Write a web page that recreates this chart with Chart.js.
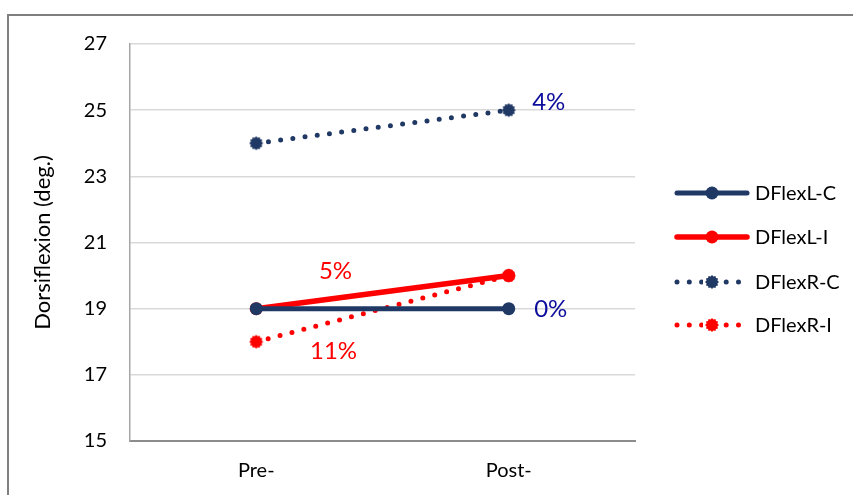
<!DOCTYPE html>
<html>
<head>
<meta charset="utf-8">
<script src="https://cdn.jsdelivr.net/npm/chart.js@4.4.1/dist/chart.umd.min.js"></script>
<style>
  html, body { margin: 0; padding: 0; background: #ffffff; }
  #wrap { width: 853px; height: 495px; position: relative; }
</style>
</head>
<body>
<div id="wrap"><canvas id="c" width="853" height="495"></canvas></div>
<script>
// Dorsiflexion before and after, per side and group
const phases = ['Pre-', 'Post-'];
const dflexLC = [19, 19];
const dflexLI = [19, 20];
const dflexRC = [24, 25];
const dflexRI = [18, 20];
const seriesNames = ['DFlexL-C', 'DFlexL-I', 'DFlexR-C', 'DFlexR-I'];
const yTicks = [15, 17, 19, 21, 23, 25, 27];

const NAVY = '#203864';
const RED = '#ff0000';
const FONT = 'Lato, "Open Sans", sans-serif';

// Percentage change from Pre- to Post-
function pctChange(arr) {
  return Math.round((arr[1] - arr[0]) / arr[0] * 100) + '%';
}

// Round marker with a ragged edge, used for the dotted series
function raggedDot(color) {
  const size = 16;
  const cv = document.createElement('canvas');
  cv.width = size; cv.height = size;
  const g = cv.getContext('2d');
  g.fillStyle = color;
  g.beginPath();
  const n = 24;
  for (let i = 0; i <= n; i++) {
    const a = i / n * Math.PI * 2;
    const r = i % 2 === 0 ? 7 : 5.6;
    const x = size / 2 + r * Math.cos(a);
    const y = size / 2 + r * Math.sin(a);
    if (i === 0) g.moveTo(x, y); else g.lineTo(x, y);
  }
  g.closePath();
  g.fill();
  return cv;
}

const dotNavy = raggedDot(NAVY);
const dotRed = raggedDot(RED);

const datasets = [
  { label: seriesNames[0], data: dflexLC, borderColor: NAVY, backgroundColor: NAVY,
    borderWidth: 5, pointRadius: 6.5, pointStyle: 'circle', pointBorderWidth: 0 },
  { label: seriesNames[1], data: dflexLI, borderColor: RED, backgroundColor: RED,
    borderWidth: 5.5, pointRadius: 6.5, pointStyle: 'circle', pointBorderWidth: 0 },
  { label: seriesNames[2], data: dflexRC, borderColor: NAVY, backgroundColor: NAVY,
    borderWidth: 5, borderDash: [0, 12.3], borderCapStyle: 'round',
    pointStyle: dotNavy, pointRadius: 7 },
  { label: seriesNames[3], data: dflexRI, borderColor: RED, backgroundColor: RED,
    borderWidth: 5, borderDash: [0, 12.3], borderCapStyle: 'round',
    pointStyle: dotRed, pointRadius: 7 }
];

// Percentage annotations, placed relative to the series points
const pctNotes = [
  { ds: 2, text: pctChange(dflexRC), color: '#0d0d9c', at: 'end', dx: 40, dy: -8 },
  { ds: 0, text: pctChange(dflexLC), color: '#0d0d9c', at: 'end', dx: 42, dy: 1 },
  { ds: 1, text: pctChange(dflexLI), color: RED, at: 'mid', dx: -47, dy: -21 },
  { ds: 3, text: pctChange(dflexRI), color: RED, at: 'mid', dx: -49, dy: 43 }
];

const notesPlugin = {
  id: 'notes',
  afterDatasetsDraw(chart) {
    const ctx = chart.ctx;
    ctx.save();
    ctx.font = '24px ' + FONT;
    ctx.textAlign = 'center';
    ctx.textBaseline = 'middle';
    pctNotes.forEach(n => {
      const pts = chart.getDatasetMeta(n.ds).data;
      let x, y;
      if (n.at === 'end') { x = pts[1].x; y = pts[1].y; }
      else { x = (pts[0].x + pts[1].x) / 2; y = (pts[0].y + pts[1].y) / 2; }
      ctx.fillStyle = n.color;
      ctx.fillText(n.text, x + n.dx, y + n.dy);
    });
    ctx.restore();
  }
};

// Legend: a line sample with the marker in its middle, then the name
const legendPlugin = {
  id: 'sideLegend',
  afterDraw(chart) {
    const ctx = chart.ctx;
    const x0 = 677, x1 = 747, tx = 755;
    const rows = [193, 237, 282, 325];
    ctx.save();
    datasets.forEach((d, i) => {
      const y = rows[i];
      ctx.strokeStyle = d.borderColor;
      ctx.lineWidth = d.borderWidth;
      ctx.lineCap = 'round';
      ctx.setLineDash(d.borderDash || []);
      ctx.beginPath();
      ctx.moveTo(x0, y);
      ctx.lineTo(x1, y);
      ctx.stroke();
      ctx.setLineDash([]);
      const cx = (x0 + x1) / 2;
      if (d.pointStyle === 'circle') {
        ctx.fillStyle = d.backgroundColor;
        ctx.beginPath();
        ctx.arc(cx, y, 6.5, 0, Math.PI * 2);
        ctx.fill();
      } else {
        ctx.fillStyle = '#ffffff';
        ctx.fillRect(cx - 9, y - 4, 18, 8);
        ctx.drawImage(d.pointStyle, cx - 8, y - 8);
      }
      ctx.fillStyle = '#000000';
      ctx.font = '20px ' + FONT;
      ctx.textAlign = 'left';
      ctx.textBaseline = 'middle';
      ctx.fillText(d.label, tx, y + 1);
    });
    ctx.restore();
  }
};

// Outer frame of the figure
const framePlugin = {
  id: 'frame',
  beforeDraw(chart) {
    const ctx = chart.ctx;
    ctx.save();
    ctx.fillStyle = '#ffffff';
    ctx.fillRect(0, 0, chart.width, chart.height);
    ctx.strokeStyle = '#7f7f7f';
    ctx.lineWidth = 2;
    ctx.strokeRect(8, 15, 900, 600);
    ctx.restore();
  }
};

new Chart(document.getElementById('c'), {
  type: 'line',
  data: { labels: phases, datasets: datasets },
  options: {
    responsive: false,
    animation: false,
    devicePixelRatio: 1,
    layout: { padding: { left: 8, top: 44, right: 218, bottom: 0 } },
    plugins: {
      legend: { display: false },
      tooltip: { enabled: false }
    },
    elements: { line: { tension: 0 } },
    scales: {
      x: {
        offset: true,
        grid: { display: false, drawTicks: false },
        border: { display: true, color: '#8c8c8c', width: 2 },
        ticks: { color: '#000000', font: { family: FONT, size: 20 }, padding: 18 },
        afterFit(scale) { scale.height = 54; }
      },
      y: {
        min: 15, max: 27,
        afterBuildTicks(scale) { scale.ticks = yTicks.map(v => ({ value: v })); },
        grid: { color: '#d9d9d9', lineWidth: 1.5, drawTicks: false },
        border: { display: true, color: '#a6a6a6', width: 1.5 },
        ticks: { color: '#000000', font: { family: FONT, size: 20 }, padding: 23 },
        title: {
          display: true, text: 'Dorsiflexion (deg.)', color: '#000000',
          font: { family: FONT, size: 22 }, padding: { top: 22, bottom: 0 }
        },
        afterFit(scale) { scale.width = 122; }
      }
    }
  },
  plugins: [framePlugin, notesPlugin, legendPlugin]
});
</script>
</body>
</html>
